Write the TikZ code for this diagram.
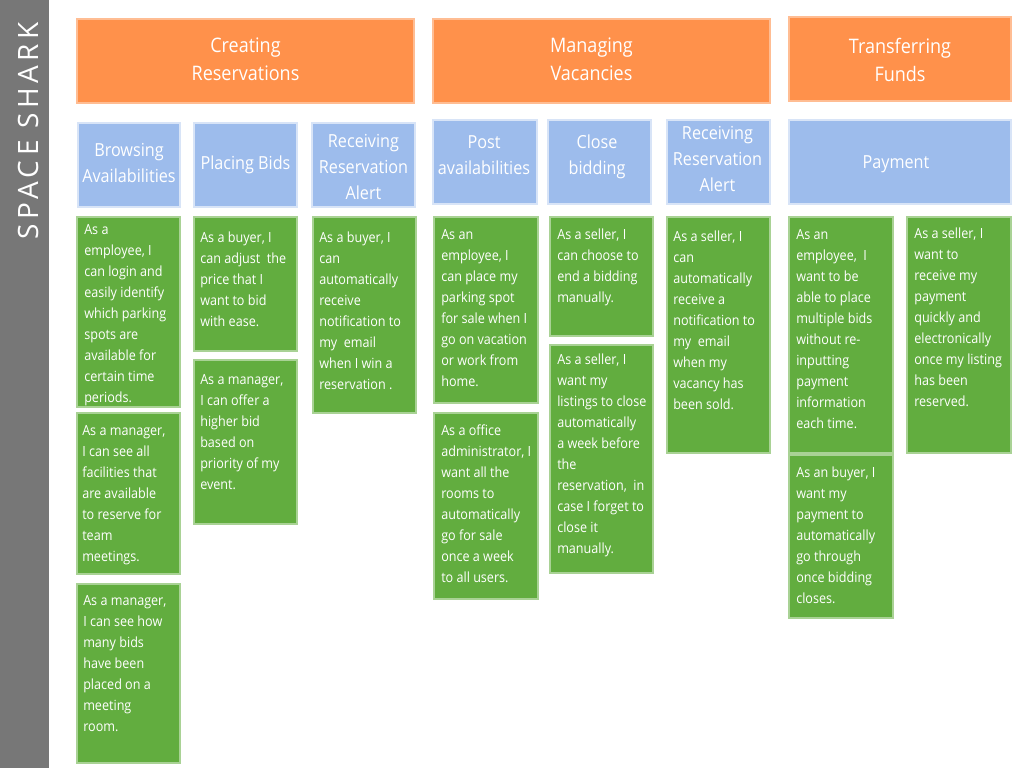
\documentclass[tikz,border=0pt]{standalone}
\usepackage{fontspec}
\setmainfont{Open Sans}[FakeStretch=0.9]
\newfontfamily\titlefont{Open Sans}[LetterSpace=16]
\definecolor{cgreen}{HTML}{62AD3F}
\definecolor{corange}{HTML}{FF914B}
\definecolor{cblue}{HTML}{9DBCEC}
\definecolor{cgray}{HTML}{777777}
\newcommand{\fl}{\rule{0pt}{9pt}}
\tikzset{
  box/.style={line width=0.9pt},
  gbox/.style={box, fill=cgreen, draw=cgreen!55!white},
  obox/.style={box, fill=corange, draw=corange!60!white},
  bbox/.style={box, fill=cblue, draw=cblue!40!white},
  gtxt/.style={anchor=north west, inner sep=0pt, align=left, text=white,
    font=\fontsize{10.5pt}{15.75pt}\selectfont, yshift=9pt},
  btxt/.style={inner sep=0pt, align=center, text=white,
    font=\fontsize{13.5pt}{19.5pt}\selectfont},
  otxt/.style={inner sep=0pt, align=center, text=white,
    font=\fontsize{15pt}{21pt}\selectfont},
}
\begin{document}
\begin{tikzpicture}[x=0.75pt,y=-0.75pt]
\useasboundingbox (0,0) rectangle (1024,768);
\fill[white] (0,0) rectangle (1024,768);
% side bar
\fill[cgray] (0,0) rectangle (49,768);
\node[rotate=90, text=white, inner sep=0pt, font=\titlefont\fontsize{21pt}{24pt}\selectfont] (title) at (28,131) {SPACE SHARK};
% orange headers
\draw[obox] (77,19) rectangle (414,103);
\node[otxt] (h1) at (245.5,59.5) {Creating\\Reservations};
\draw[obox] (433,19) rectangle (770,103);
\node[otxt] (h2) at (591.5,59.5) {Managing\\Vacancies};
\draw[obox] (789,17) rectangle (1011,101);
\node[otxt] (h3) at (900,59.5) {Transferring\\Funds};
% blue headers
\draw[bbox] (78,123) rectangle (180,207);
\node[btxt] (b1) at (129,163) {Browsing\\Availabilities};
\draw[bbox] (194,123) rectangle (297,207);
\node[btxt] (b2) at (245.5,165) {Placing Bids};
\draw[bbox] (312,123) rectangle (415,207);
\node[btxt] (b3) at (363.5,167) {Receiving\\Reservation\\Alert};
\draw[bbox] (433,120) rectangle (537,204);
\node[btxt] (b4) at (484,155) {Post\\availabilities};
\draw[bbox] (548,120) rectangle (651,204);
\node[btxt] (b5) at (597,157) {Close\\bidding};
\draw[bbox] (667,120) rectangle (770,204);
\node[btxt] (b6) at (717.5,159) {Receiving\\Reservation\\Alert};
\draw[bbox] (789,120) rectangle (1011,204);
\node[btxt] (b7) at (896,164) {Payment};
% green cards
\draw[gbox] (77,217) rectangle (180,407);
\node[gtxt] (g1) at (84,234) {\fl As a\\employee, I\\can login and\\easily identify\\which parking\\spots are\\available for\\certain time\\periods.};
\draw[gbox] (77,413) rectangle (180,574);
\node[gtxt] (g2) at (82,435) {\fl As a manager,\\I can see all\\facilities that\\are available\\to reserve for\\team\\meetings.};
\draw[gbox] (77,584) rectangle (180,763);
\node[gtxt] (g3) at (83,605) {\fl As a manager,\\I can see how\\many bids\\have been\\placed on a\\meeting\\room.};
\draw[gbox] (194,217) rectangle (297,351);
\node[gtxt] (g4) at (200,242) {\fl As a buyer, I\\can adjust\ \ the\\price that I\\want to bid\\with ease.};
\draw[gbox] (194,360) rectangle (297,524);
\node[gtxt] (g5) at (200,384) {\fl As a manager,\\I can offer a\\higher bid\\based on\\priority of my\\event.};
\draw[gbox] (313,217) rectangle (416,413);
\node[gtxt] (g6) at (319,242) {\fl As a buyer, I\\can\\automatically\\receive\\notification to\\my\ \ email\\when I win a\\reservation .};
\draw[gbox] (434,217) rectangle (538,403);
\node[gtxt] (g7) at (441,239) {\fl As an\\employee, I\\can place my\\parking spot\\for sale when I\\go on vacation\\or work from\\home.};
\draw[gbox] (434,413) rectangle (538,599);
\node[gtxt] (g8) at (441,435) {\fl As a office\\administrator, I\\want all the\\rooms to\\automatically\\go for sale\\once a week\\to all users.};
\draw[gbox] (550,217) rectangle (653,336);
\node[gtxt] (g9) at (557,239) {\fl As a seller, I\\can choose to\\end a bidding\\manually.};
\draw[gbox] (550,345) rectangle (653,573);
\node[gtxt] (g10) at (557,364) {\fl As a seller, I\\want my\\listings to close\\automatically\\a week before\\the\\reservation,\ \ in\\case I forget to\\close it\\manually.};
\draw[gbox] (667,217) rectangle (770,453);
\node[gtxt] (g11) at (673,241) {\fl As a seller, I\\can\\automatically\\receive a\\notification to\\my\ \ email\\when my\\vacancy has\\been sold.};
\draw[gbox] (789,217) rectangle (893,453);
\node[gtxt] (g12) at (796,239) {\fl As an\\employee,\ \ I\\want to be\\able to place\\multiple bids\\without re-\\inputting\\payment\\information\\each time.};
\draw[gbox] (789,455) rectangle (893,618);
\node[gtxt] (g13) at (796,477) {\fl As an buyer, I\\want my\\payment to\\automatically\\go through\\once bidding\\closes.};
\draw[gbox] (907,217) rectangle (1011,453);
\node[gtxt] (g14) at (914,238) {\fl As a seller, I\\want to\\receive my\\payment\\quickly and\\electronically\\once my listing\\has been\\reserved.};
\end{tikzpicture}
\end{document}
